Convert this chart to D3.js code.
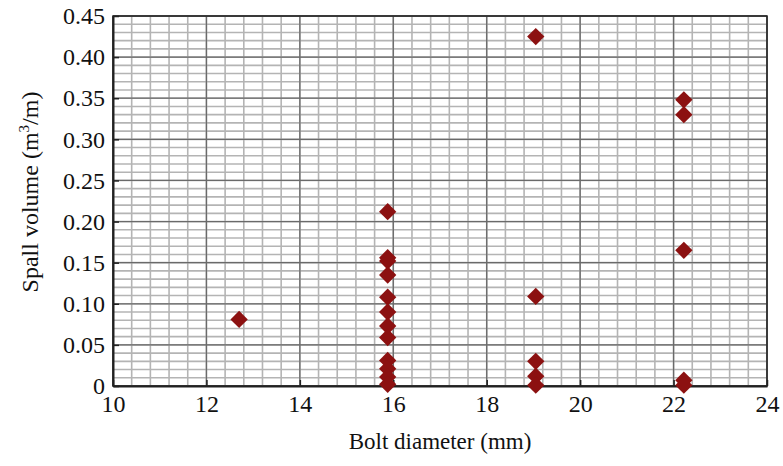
<!DOCTYPE html>
<html>
<head>
<meta charset="utf-8">
<script src="https://cdn.jsdelivr.net/npm/d3@7"></script>
<style>
  body { margin: 0; background: #fff; }
  svg { display: block; font-family: "Liberation Serif", "Times New Roman", serif; }
</style>
</head>
<body>
<div id="chart"></div>
<script>
const width = 783
const height = 466
const margin = { top: 16, right: 16, bottom: 80, left: 113 }
const innerWidth = width - margin.left - margin.right
const innerHeight = height - margin.top - margin.bottom

// bolt diameter (mm) and spall volume (m3/m)
const diameters = [12.7,
  15.88, 15.88, 15.88, 15.88, 15.88, 15.88, 15.88, 15.88, 15.88, 15.88, 15.88, 15.88,
  19.05, 19.05, 19.05, 19.05, 19.05,
  22.22, 22.22, 22.22, 22.22, 22.22]
const volumes = [0.081,
  0.212, 0.156, 0.152, 0.135, 0.108, 0.090, 0.073, 0.059, 0.031, 0.021, 0.011, 0.002,
  0.425, 0.109, 0.030, 0.012, 0.001,
  0.348, 0.330, 0.165, 0.007, 0.001]
const xTicks = [10, 12, 14, 16, 18, 20, 22, 24]
const yTicks = [0, 0.05, 0.10, 0.15, 0.20, 0.25, 0.30, 0.35, 0.40, 0.45]

const points = diameters.map((d, i) => ({ x: d, y: volumes[i] }))

const svg = d3.select('#chart').append('svg')
    .attr('width', width)
    .attr('height', height)

const g = svg.append('g')
    .attr('transform', `translate(${margin.left}, ${margin.top})`)

const xScale = d3.scaleLinear().domain([10, 24]).range([0, innerWidth])
const yScale = d3.scaleLinear().domain([0, 0.45]).range([innerHeight, 0])

// minor grid
const xMinor = d3.range(10, 24.001, 0.4)
const yMinor = d3.range(0, 0.4501, 0.01)
g.append('g').selectAll('line').data(xMinor)
    .join('line')
    .attr('x1', d => xScale(d)).attr('x2', d => xScale(d))
    .attr('y1', 0).attr('y2', innerHeight)
    .attr('stroke', '#b4b4b4').attr('stroke-width', 1.6)
g.append('g').selectAll('line').data(yMinor)
    .join('line')
    .attr('y1', d => yScale(d)).attr('y2', d => yScale(d))
    .attr('x1', 0).attr('x2', innerWidth)
    .attr('stroke', '#b4b4b4').attr('stroke-width', 1.6)

// major grid
g.append('g').selectAll('line').data(xTicks)
    .join('line')
    .attr('x1', d => xScale(d)).attr('x2', d => xScale(d))
    .attr('y1', 0).attr('y2', innerHeight)
    .attr('stroke', '#6a6a6a').attr('stroke-width', 1.3)
g.append('g').selectAll('line').data(yTicks)
    .join('line')
    .attr('y1', d => yScale(d)).attr('y2', d => yScale(d))
    .attr('x1', 0).attr('x2', innerWidth)
    .attr('stroke', '#6a6a6a').attr('stroke-width', 1.3)

// axes
const xAxis = g.append('g')
    .attr('transform', `translate(0, ${innerHeight})`)
    .call(d3.axisBottom(xScale).tickValues(xTicks).tickSizeInner(-6).tickSizeOuter(0).tickPadding(9))
const yAxis = g.append('g')
    .call(d3.axisLeft(yScale).tickValues(yTicks).tickSizeInner(-6).tickSizeOuter(0).tickPadding(8)
        .tickFormat(d => d === 0 ? '0' : d3.format('.2f')(d)))
for (const ax of [xAxis, yAxis]) {
    ax.select('.domain').attr('stroke', '#222').attr('stroke-width', 2)
    ax.selectAll('.tick line').attr('stroke', '#222').attr('stroke-width', 1.5)
    ax.selectAll('.tick text')
        .attr('fill', '#111')
        .style('font-family', '"Liberation Serif", "Times New Roman", serif')
        .style('font-size', '24px')
}

// frame
g.append('rect')
    .attr('width', innerWidth).attr('height', innerHeight)
    .attr('fill', 'none').attr('stroke', '#222').attr('stroke-width', 1.5)

// points
g.append('g').selectAll('path').data(points)
    .join('path')
    .attr('d', d3.symbol().type(d3.symbolSquare).size(150))
    .attr('transform', d => `translate(${xScale(d.x)}, ${yScale(d.y)}) rotate(45)`)
    .attr('fill', '#8c1111')

// axis titles
svg.append('text')
    .attr('x', 440)
    .attr('y', 449)
    .attr('text-anchor', 'middle')
    .attr('fill', '#111')
    .style('font-size', '23px')
    .text('Bolt diameter (mm)')

const yTitle = svg.append('text')
    .attr('transform', `translate(38, 192) rotate(-90)`)
    .attr('text-anchor', 'middle')
    .attr('fill', '#111')
    .style('font-size', '24px')
yTitle.append('tspan').text('Spall volume (m')
yTitle.append('tspan').text('3').attr('dy', -9).style('font-size', '15px')
yTitle.append('tspan').text('/m)').attr('dy', 9)
</script>
</body>
</html>
